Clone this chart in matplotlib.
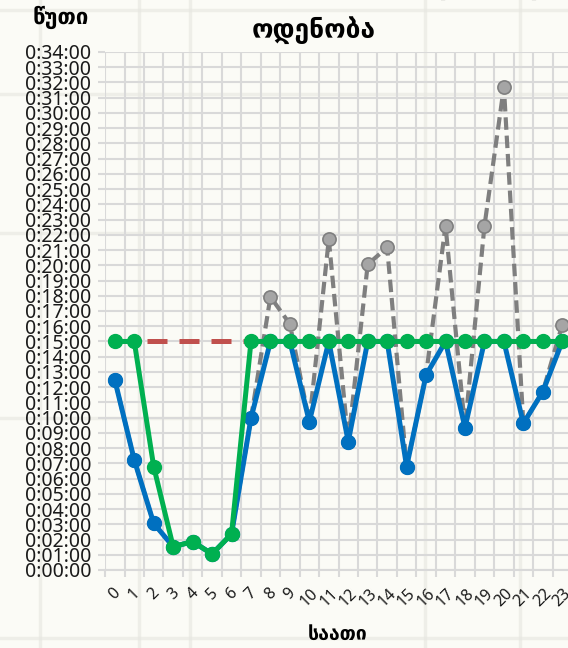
import matplotlib
matplotlib.use("Agg")
import matplotlib.pyplot as plt
from matplotlib.lines import Line2D
from matplotlib.ticker import FuncFormatter, MultipleLocator

plt.rcParams['font.family'] = ['Noto Sans', 'DejaVu Sans']

# საათები და ლოდინის დრო (წუთებში)
hours = list(range(24))
avg_wait = [12.47, 7.22, 3.06, 1.53, 1.86, 1.05, 2.36, 9.95, 15, 15, 9.73, 15,
            8.42, 15, 15, 6.78, 12.8, 15, 9.34, 15, 15, 9.62, 11.7, 15]
max_wait = [12.47, 7.22, 3.06, 1.53, 1.86, 1.05, 2.36, 9.95, 17.93, 16.14, 9.73, 21.7,
            8.42, 20.06, 21.17, 6.78, 12.8, 22.6, 9.34, 22.57, 31.7, 9.62, 11.7, 16.1]
capped_wait = [15, 15, 6.78, 1.53, 1.86, 1.05, 2.36, 15, 15, 15, 15, 15,
               15, 15, 15, 15, 15, 15, 15, 15, 15, 15, 15, 15]
target = [15] * 24

fig = plt.figure(figsize=(5.68, 6.48), dpi=100)
fig.patch.set_facecolor('#fbfbf6')

# ფონის ფურცლის ბადე
for xf in [0.07, 0.245, 0.335, 0.748, 0.915]:
    fig.add_artist(Line2D([xf, xf], [0, 1], color='#e6e6e0', lw=2.5, alpha=0.6, zorder=0))
for yf in [0.985, 0.855, 0.64, 0.355, 0.015]:
    fig.add_artist(Line2D([0, 1], [yf, yf], color='#e6e6e0', lw=2.5, alpha=0.6, zorder=0))

ax = fig.add_axes([0.185, 0.1204, 0.822, 0.7994])
ax.set_facecolor('none')

ax.plot(hours, max_wait, color='#7f7f7f', lw=3, dashes=(3, 1.4),
        marker='o', ms=9.5, mfc='#a5a5a5', mec='#7f7f7f', mew=1.2, zorder=2)
ax.plot(hours, target, color='#c0504d', lw=3.6, dashes=(4, 2.4), zorder=2.5)
ax.plot(hours, avg_wait, color='#0070c0', lw=3.6, marker='o', ms=10, zorder=3)
ax.plot(hours, capped_wait, color='#00b050', lw=3.6, marker='o', ms=10, zorder=4)

ax.set_xlim(-0.5, 23.5)
ax.set_ylim(0, 34)

ax.yaxis.set_major_locator(MultipleLocator(1))
ax.yaxis.set_major_formatter(FuncFormatter(lambda v, p: f"0:{int(round(v)):02d}:00"))
ax.set_xticks([h - 0.5 for h in hours] + [23.5])
ax.set_xticklabels([])
ax.set_xticks(hours, minor=True)
ax.set_xticklabels([str(h) for h in hours], minor=True, rotation=45,
                   fontsize=11.5, ha='center', va='top')

ax.grid(True, which='major', color='#d9d9d9', lw=1.5, zorder=1)
ax.set_axisbelow(True)
for s in ['top', 'right', 'left']:
    ax.spines[s].set_visible(False)
ax.spines['bottom'].set_color('#d9d9d9')
ax.spines['bottom'].set_linewidth(1.5)

ax.tick_params(axis='y', which='major', length=5, width=1.5, color='#d9d9d9',
               labelsize=14, pad=5, labelcolor='#1a1a1a')
ax.tick_params(axis='x', which='major', length=5, width=1.5, color='#d9d9d9')
ax.tick_params(axis='x', which='minor', length=0, pad=11, labelcolor='#1a1a1a')

# სათაური და ღერძების წარწერები
fig.text(314 / 568, 1 + 13 / 648, "ზარებზე პასუხის საშუალო ლოდინის დროის",
         ha='center', va='center', fontsize=19, fontweight='bold', family=['DejaVu Sans'])
fig.text(314 / 568, 1 - 30 / 648, "ოდენობა", ha='center', va='center',
         fontsize=19, fontweight='bold', family=['DejaVu Sans'])
fig.text(61 / 568, 1 - 17 / 648, "წუთი", ha='center', va='center',
         fontsize=16, fontweight='bold', family=['DejaVu Sans'])
fig.text(338 / 568, 1 - 634 / 648, "საათი", ha='center', va='center',
         fontsize=14, fontweight='bold', family=['DejaVu Sans'])

fig.savefig("out.png", dpi=100, facecolor=fig.get_facecolor())
